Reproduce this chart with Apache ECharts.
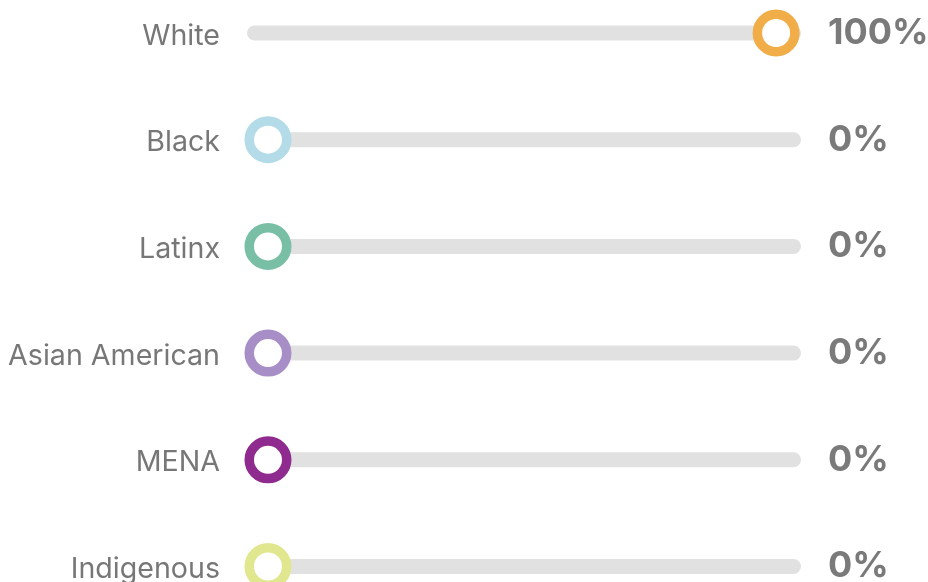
<!DOCTYPE html>
<html>
<head>
<meta charset="utf-8">
<script src="https://cdn.jsdelivr.net/npm/echarts@6/dist/echarts.min.js"></script>
<style>
  html, body { margin: 0; padding: 0; background: #fff; }
  #chart { width: 928px; height: 582px; }
</style>
</head>
<body>
<div id="chart"></div>
<script>
const categories = ['White', 'Black', 'Latinx', 'Asian American', 'MENA', 'Indigenous']
const shares = [100, 0, 0, 0, 0, 0]
const colors = ['#f0ad48', '#b3dbe8', '#79bfa5', '#a78ec6', '#8f2a8e', '#e1e78f']

const myChart = echarts.init(document.getElementById('chart'))

const option = {
  animation: false,
  grid: {
    left: 247,
    right: 127,
    top: 33,
    bottom: 15.5,
    outerBoundsMode: 'none'
  },
  xAxis: {
    type: 'value',
    min: -4.13,
    max: 104.9,
    show: false
  },
  yAxis: [
    {
      type: 'category',
      data: categories,
      inverse: true,
      boundaryGap: false,
      axisLine: { show: false },
      axisTick: { show: false },
      splitLine: { show: false },
      axisLabel: {
        margin: 27,
        formatter: (v) => '{a|' + v + '}',
        rich: {
          // nudge the category names a little below the track centre
          a: {
            fontFamily: 'Inter',
            fontSize: 28.6,
            color: '#777777',
            padding: [6, 0, 0, 0]
          }
        }
      }
    },
    {
      type: 'category',
      data: categories,
      inverse: true,
      boundaryGap: false,
      position: 'right',
      axisLine: { show: false },
      axisTick: { show: false },
      splitLine: { show: false },
      axisLabel: {
        margin: 27,
        align: 'left',
        fontFamily: 'Inter',
        fontWeight: 'bold',
        fontSize: 36,
        color: '#7a7a7a',
        formatter: (v, i) => shares[i] + '%'
      }
    }
  ],
  series: [
    {
      // grey track behind each marker
      type: 'bar',
      data: shares.map(() => 0),
      barWidth: 15,
      silent: true,
      showBackground: true,
      backgroundStyle: {
        color: '#e1e1e1',
        borderRadius: 8
      }
    },
    {
      type: 'scatter',
      data: shares.map((v, i) => ({
        value: [v, categories[i]],
        itemStyle: { borderColor: colors[i] }
      })),
      symbol: 'circle',
      symbolSize: 37.5,
      z: 5,
      itemStyle: {
        color: '#ffffff',
        borderWidth: 9.5,
        opacity: 1
      }
    }
  ]
}

myChart.setOption(option)
</script>
</body>
</html>
